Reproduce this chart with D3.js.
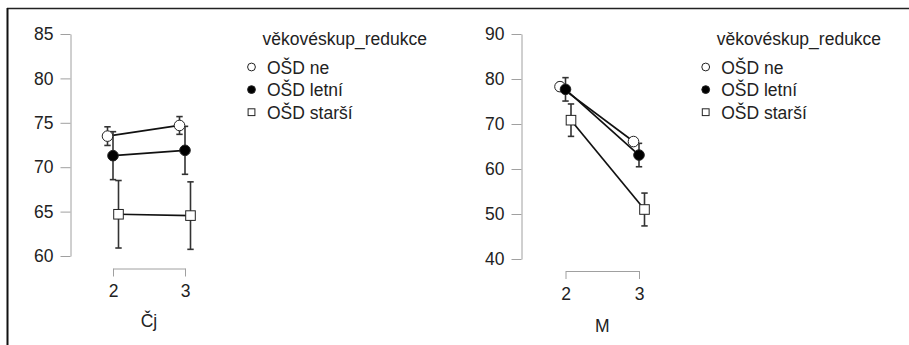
<!DOCTYPE html>
<html>
<head>
<meta charset="utf-8">
<script src="https://cdn.jsdelivr.net/npm/d3@7"></script>
<style>
  body { margin: 0; background: #fff; }
  svg { display: block; font-family: "Liberation Sans", Arial, sans-serif; }
</style>
</head>
<body>
<svg id="chart" width="909" height="345"></svg>
<script>
// groups and factor levels
const groups = ['OŠD ne', 'OŠD letní', 'OŠD starší'];
const shapes = ['circleOpen', 'circleFilled', 'square'];
const levels = [2, 3];

// Čj panel: means and error bar half-widths per group, per level
const cjMeans = [[73.5, 74.7], [71.3, 71.9], [64.7, 64.55]];
const cjErr = [[1.05, 1.0], [2.7, 2.7], [3.8, 3.8]];
const cjTicks = [60, 65, 70, 75, 80, 85];

// M panel
const mMeans = [[78.3, 66.1], [77.7, 63.1], [70.85, 51.0]];
const mErr = [[0.9, 0.8], [2.6, 2.6], [3.6, 3.65]];
const mTicks = [40, 50, 60, 70, 80, 90];

const legendTitle = 'věkovéskup_redukce';
const FS = 17.5;

const svg = d3.select('#chart');

// frame (left + top edge of the cropped screenshot)
svg.append('line').attr('x1', 7).attr('x2', 909).attr('y1', 8.5).attr('y2', 8.5)
  .attr('stroke', '#222').attr('stroke-width', 1.5);
svg.append('line').attr('x1', 7.5).attr('x2', 7.5).attr('y1', 8).attr('y2', 345)
  .attr('stroke', '#111').attr('stroke-width', 2);

function drawPanel(opts) {
  const g = svg.append('g');
  const y = d3.scaleLinear().domain(d3.extent(opts.ticks)).range([opts.yBottom, opts.yTop]);
  const x = d3.scaleLinear().domain([2, 3]).range([opts.x0, opts.x1]);
  const dodge = [-5.5, 0, 5.5];

  // y axis
  const ya = g.append('g')
    .attr('transform', `translate(${opts.axisX},0)`)
    .call(d3.axisLeft(y).tickValues(opts.ticks).tickSize(10).tickSizeOuter(0).tickPadding(7));
  ya.selectAll('path, line').attr('stroke', '#a0a0a0');
  ya.selectAll('text').attr('font-size', FS).attr('fill', '#222')
    .attr('font-family', '"Liberation Sans", Arial, sans-serif');

  // x axis bracket
  const xa = g.append('g')
    .attr('transform', `translate(0,${opts.bracketY})`)
    .call(d3.axisBottom(x).tickValues(levels).tickFormat(d3.format('d')).tickSize(8).tickSizeOuter(0));
  xa.selectAll('path, line').attr('stroke', '#a0a0a0');
  xa.selectAll('text').attr('font-size', FS).attr('fill', '#222')
    .attr('font-family', '"Liberation Sans", Arial, sans-serif')
    .attr('dy', null).attr('y', opts.tickLabelY - opts.bracketY);

  g.append('text')
    .attr('x', (opts.x0 + opts.x1) / 2)
    .attr('y', opts.titleY)
    .attr('text-anchor', 'middle')
    .attr('font-size', FS).attr('fill', '#222')
    .text(opts.title);

  const line = d3.line().x(d => d[0]).y(d => d[1]);

  // lines
  groups.forEach((grp, gi) => {
    const pts = levels.map((lv, li) => [x(lv) + dodge[gi], y(opts.means[gi][li])]);
    g.append('path').attr('d', line(pts))
      .attr('fill', 'none').attr('stroke', '#111').attr('stroke-width', 1.7);
  });

  // error bars
  groups.forEach((grp, gi) => {
    levels.forEach((lv, li) => {
      const cx = x(lv) + dodge[gi];
      const m = opts.means[gi][li], e = opts.err[gi][li];
      const eb = g.append('g').attr('stroke', '#333').attr('stroke-width', 1.6);
      eb.append('line').attr('x1', cx).attr('x2', cx).attr('y1', y(m - e)).attr('y2', y(m + e));
      [m - e, m + e].forEach(v => {
        eb.append('line').attr('x1', cx - 3.2).attr('x2', cx + 3.2).attr('y1', y(v)).attr('y2', y(v));
      });
    });
  });

  // points
  groups.forEach((grp, gi) => {
    levels.forEach((lv, li) => {
      const cx = x(lv) + dodge[gi];
      const cy = y(opts.means[gi][li]);
      drawSymbol(g, shapes[gi], cx, cy, 5.3);
    });
  });

  // legend
  const lg = g.append('g');
  lg.append('text').attr('x', opts.legendX + 11).attr('y', 45)
    .attr('font-size', FS).attr('fill', '#222').text(legendTitle);
  groups.forEach((grp, gi) => {
    const cy = 67 + gi * 22.6;
    drawSymbol(lg, shapes[gi], opts.legendX, cy, 3.9);
    lg.append('text').attr('x', opts.legendX + 15.5).attr('y', cy + 6.5)
      .attr('font-size', FS).attr('fill', '#222').text(grp);
  });
}

function drawSymbol(g, shape, cx, cy, r) {
  if (shape === 'square') {
    g.append('rect').attr('x', cx - r + 0.5).attr('y', cy - r + 0.5)
      .attr('width', 2 * r - 1).attr('height', 2 * r - 1)
      .attr('fill', '#fff').attr('stroke', '#222').attr('stroke-width', 1);
  } else {
    g.append('circle').attr('cx', cx).attr('cy', cy).attr('r', r)
      .attr('fill', shape === 'circleFilled' ? '#000' : '#fff')
      .attr('stroke', '#222').attr('stroke-width', 1);
  }
}

drawPanel({
  title: 'Čj', means: cjMeans, err: cjErr, ticks: cjTicks,
  axisX: 70.5, yTop: 34, yBottom: 256,
  x0: 113, x1: 185, bracketY: 268.5, tickLabelY: 297, titleY: 327,
  legendX: 251.5
});

drawPanel({
  title: 'M', means: mMeans, err: mErr, ticks: mTicks,
  axisX: 521.5, yTop: 34, yBottom: 259,
  x0: 565.5, x1: 639, bracketY: 271, tickLabelY: 300, titleY: 331.5,
  legendX: 705.7
});
</script>
</body>
</html>
